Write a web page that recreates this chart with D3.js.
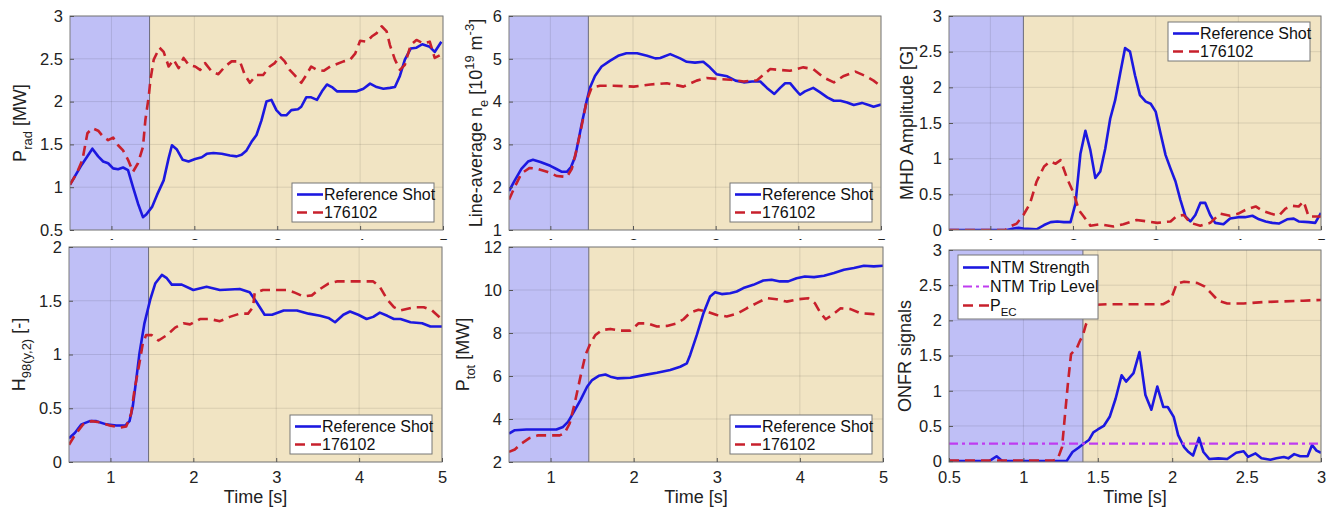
<!DOCTYPE html>
<html>
<head>
<meta charset="utf-8">
<script src="https://cdn.jsdelivr.net/npm/d3@7"></script>
<style>
  body { margin: 0; background: #fff; }
  svg { font-family: "Liberation Sans", Arial, Helvetica, sans-serif; }
</style>
</head>
<body>
<svg width="1328" height="507"></svg>
<script>
// ---- data: [time (s), value] ----
const pradRef = [[0.5,1.03],[0.64,1.26],[0.77,1.45],[0.84,1.36],[0.9,1.30],[0.96,1.28],[1.02,1.22],[1.08,1.21],[1.14,1.23],[1.2,1.20],[1.26,1.0],[1.32,0.81],[1.38,0.65],[1.42,0.68],[1.49,0.77],[1.55,0.91],[1.63,1.08],[1.69,1.34],[1.73,1.49],[1.79,1.44],[1.86,1.32],[1.93,1.30],[2.01,1.33],[2.09,1.35],[2.15,1.39],[2.23,1.40],[2.33,1.39],[2.43,1.37],[2.51,1.36],[2.57,1.38],[2.63,1.43],[2.69,1.53],[2.75,1.61],[2.81,1.78],[2.87,2.0],[2.93,2.02],[2.99,1.90],[3.05,1.84],[3.11,1.84],[3.17,1.90],[3.25,1.91],[3.29,1.94],[3.35,2.05],[3.41,2.05],[3.48,2.02],[3.54,2.12],[3.6,2.20],[3.66,2.17],[3.72,2.12],[3.84,2.12],[3.96,2.12],[4.04,2.15],[4.12,2.21],[4.2,2.17],[4.28,2.15],[4.36,2.16],[4.42,2.17],[4.48,2.30],[4.54,2.49],[4.61,2.62],[4.68,2.63],[4.75,2.67],[4.84,2.64],[4.9,2.58],[4.98,2.70]];
const pradShot = [[0.5,1.03],[0.58,1.16],[0.65,1.32],[0.71,1.63],[0.77,1.69],[0.84,1.66],[0.9,1.59],[0.96,1.55],[1.02,1.58],[1.08,1.49],[1.14,1.43],[1.2,1.32],[1.26,1.18],[1.32,1.28],[1.38,1.47],[1.41,1.79],[1.45,2.06],[1.47,2.25],[1.51,2.49],[1.58,2.63],[1.63,2.58],[1.69,2.41],[1.75,2.49],[1.81,2.39],[1.87,2.51],[1.93,2.43],[2.01,2.41],[2.07,2.37],[2.13,2.45],[2.21,2.35],[2.29,2.32],[2.37,2.41],[2.45,2.47],[2.55,2.47],[2.61,2.31],[2.67,2.22],[2.75,2.31],[2.83,2.31],[2.91,2.41],[2.97,2.45],[3.03,2.53],[3.09,2.47],[3.15,2.37],[3.21,2.31],[3.29,2.22],[3.35,2.31],[3.41,2.41],[3.48,2.37],[3.56,2.36],[3.64,2.41],[3.72,2.44],[3.8,2.47],[3.88,2.49],[3.94,2.56],[4.0,2.71],[4.08,2.70],[4.14,2.76],[4.2,2.80],[4.26,2.88],[4.32,2.82],[4.36,2.66],[4.42,2.49],[4.48,2.37],[4.54,2.43],[4.61,2.66],[4.68,2.72],[4.76,2.68],[4.84,2.70],[4.9,2.51],[4.96,2.54]];

const neRef = [[0.5,1.91],[0.57,2.16],[0.65,2.43],[0.73,2.60],[0.79,2.64],[0.88,2.59],[1.0,2.50],[1.08,2.42],[1.14,2.36],[1.2,2.36],[1.25,2.47],[1.3,2.71],[1.34,3.09],[1.38,3.48],[1.44,4.02],[1.48,4.33],[1.54,4.60],[1.62,4.82],[1.72,4.95],[1.82,5.07],[1.92,5.13],[2.05,5.13],[2.17,5.07],[2.27,5.01],[2.33,5.02],[2.45,5.11],[2.57,5.01],[2.65,4.93],[2.75,4.91],[2.85,4.93],[2.93,4.80],[3.01,4.64],[3.14,4.59],[3.24,4.49],[3.34,4.45],[3.44,4.47],[3.54,4.47],[3.62,4.32],[3.71,4.18],[3.78,4.32],[3.84,4.43],[3.9,4.43],[3.96,4.29],[4.02,4.16],[4.08,4.24],[4.18,4.32],[4.26,4.22],[4.35,4.10],[4.43,4.02],[4.51,4.02],[4.59,3.98],[4.67,3.92],[4.77,3.97],[4.85,3.92],[4.91,3.88],[5.0,3.93]];
const neShot = [[0.5,1.71],[0.57,2.01],[0.65,2.32],[0.75,2.45],[0.84,2.43],[0.96,2.36],[1.08,2.26],[1.2,2.24],[1.26,2.43],[1.32,2.90],[1.38,3.44],[1.44,4.02],[1.5,4.33],[1.6,4.37],[1.76,4.37],[2.01,4.35],[2.21,4.40],[2.41,4.43],[2.61,4.35],[2.77,4.49],[2.89,4.55],[3.01,4.53],[3.18,4.51],[3.34,4.47],[3.5,4.50],[3.66,4.76],[3.78,4.74],[3.9,4.72],[4.06,4.80],[4.18,4.76],[4.3,4.57],[4.43,4.45],[4.55,4.60],[4.69,4.70],[4.81,4.60],[4.91,4.49],[4.99,4.37]];

const mhdRef = [[0.5,0],[1.2,0],[1.28,0.02],[1.34,0.03],[1.4,0.02],[1.56,0.01],[1.65,0.07],[1.73,0.11],[1.81,0.12],[1.89,0.11],[1.97,0.11],[2.03,0.37],[2.09,1.07],[2.15,1.39],[2.21,1.12],[2.27,0.73],[2.33,0.82],[2.39,1.14],[2.45,1.56],[2.51,1.82],[2.57,2.19],[2.63,2.55],[2.69,2.50],[2.75,2.17],[2.81,1.89],[2.88,1.80],[2.94,1.77],[3.0,1.66],[3.06,1.35],[3.12,1.05],[3.18,0.86],[3.24,0.68],[3.3,0.42],[3.36,0.19],[3.42,0.12],[3.48,0.21],[3.54,0.38],[3.6,0.38],[3.66,0.21],[3.72,0.10],[3.82,0.08],[3.9,0.16],[4.0,0.18],[4.08,0.18],[4.17,0.20],[4.25,0.15],[4.33,0.12],[4.41,0.10],[4.49,0.09],[4.59,0.15],[4.67,0.16],[4.73,0.12],[4.85,0.11],[4.93,0.10],[5.0,0.24]];
const mhdShot = [[0.5,0],[1.18,0],[1.24,0.05],[1.32,0.09],[1.4,0.21],[1.48,0.37],[1.56,0.68],[1.65,0.89],[1.72,0.96],[1.79,0.93],[1.85,0.98],[1.93,0.72],[2.01,0.51],[2.07,0.28],[2.13,0.19],[2.21,0.06],[2.33,0.08],[2.49,0.05],[2.61,0.08],[2.77,0.14],[2.9,0.12],[3.02,0.10],[3.18,0.12],[3.26,0.20],[3.34,0.21],[3.42,0.10],[3.54,0.06],[3.66,0.10],[3.78,0.23],[3.9,0.20],[4.0,0.23],[4.1,0.29],[4.21,0.33],[4.29,0.27],[4.39,0.23],[4.49,0.20],[4.57,0.30],[4.65,0.34],[4.73,0.33],[4.79,0.40],[4.85,0.19],[4.93,0.19],[5.0,0.19]];

const h98Ref = [[0.5,0.22],[0.57,0.27],[0.65,0.35],[0.75,0.38],[0.83,0.38],[0.95,0.35],[1.07,0.34],[1.18,0.34],[1.23,0.38],[1.27,0.52],[1.31,0.76],[1.35,1.01],[1.41,1.29],[1.48,1.51],[1.54,1.66],[1.62,1.74],[1.68,1.71],[1.74,1.65],[1.86,1.65],[2.0,1.60],[2.16,1.63],[2.32,1.60],[2.56,1.61],[2.68,1.58],[2.76,1.49],[2.86,1.37],[2.95,1.37],[3.09,1.41],[3.25,1.41],[3.39,1.38],[3.53,1.36],[3.63,1.34],[3.71,1.30],[3.81,1.37],[3.89,1.40],[3.99,1.37],[4.09,1.33],[4.17,1.35],[4.25,1.39],[4.34,1.36],[4.42,1.33],[4.5,1.33],[4.62,1.30],[4.76,1.29],[4.86,1.26],[5.0,1.26]];
const h98Shot = [[0.5,0.16],[0.57,0.25],[0.67,0.35],[0.77,0.38],[0.87,0.37],[0.99,0.34],[1.11,0.32],[1.19,0.33],[1.25,0.45],[1.29,0.67],[1.35,0.92],[1.39,1.10],[1.43,1.18],[1.5,1.18],[1.58,1.13],[1.68,1.18],[1.78,1.25],[1.88,1.29],[1.96,1.28],[2.08,1.33],[2.2,1.33],[2.32,1.31],[2.44,1.35],[2.56,1.38],[2.66,1.38],[2.72,1.44],[2.74,1.57],[2.84,1.60],[3.01,1.60],[3.13,1.60],[3.21,1.58],[3.33,1.54],[3.43,1.55],[3.51,1.60],[3.63,1.66],[3.73,1.68],[3.89,1.68],[4.05,1.68],[4.17,1.68],[4.25,1.63],[4.34,1.51],[4.42,1.44],[4.5,1.41],[4.66,1.44],[4.78,1.44],[4.88,1.41],[4.98,1.34]];

const ptotRef = [[0.5,3.32],[0.57,3.48],[0.71,3.51],[0.91,3.51],[1.07,3.51],[1.15,3.63],[1.21,3.87],[1.27,4.26],[1.36,4.88],[1.44,5.50],[1.5,5.81],[1.58,6.01],[1.66,6.07],[1.72,5.97],[1.8,5.89],[1.96,5.92],[2.12,6.04],[2.28,6.15],[2.44,6.28],[2.56,6.43],[2.64,6.59],[2.68,6.98],[2.76,7.91],[2.84,8.92],[2.92,9.70],[2.98,9.90],[3.06,9.81],[3.16,9.85],[3.24,9.93],[3.32,10.09],[3.44,10.24],[3.56,10.44],[3.66,10.48],[3.76,10.40],[3.86,10.40],[3.96,10.55],[4.06,10.63],[4.17,10.60],[4.29,10.66],[4.41,10.79],[4.53,10.94],[4.65,11.02],[4.77,11.13],[4.89,11.10],[5.0,11.13]];
const ptotShot = [[0.5,2.47],[0.57,2.58],[0.65,2.86],[0.75,3.12],[0.85,3.24],[0.99,3.24],[1.11,3.24],[1.17,3.35],[1.23,3.79],[1.29,4.72],[1.36,5.97],[1.42,6.98],[1.48,7.52],[1.54,7.91],[1.62,8.14],[1.72,8.19],[1.84,8.11],[1.96,8.11],[2.06,8.45],[2.16,8.45],[2.28,8.30],[2.4,8.33],[2.52,8.45],[2.6,8.64],[2.68,8.95],[2.78,9.08],[2.88,9.00],[3.0,8.84],[3.12,8.77],[3.24,8.89],[3.36,9.15],[3.48,9.39],[3.6,9.62],[3.72,9.57],[3.84,9.46],[3.98,9.57],[4.1,9.62],[4.18,9.39],[4.25,8.92],[4.31,8.64],[4.39,8.84],[4.49,9.15],[4.61,9.11],[4.73,8.92],[4.85,8.89],[4.97,8.84]];

const ntmStrength = [[0.5,0],[0.77,0],[0.82,0.07],[0.86,0],[1.29,0],[1.33,0.13],[1.37,0.19],[1.4,0.24],[1.44,0.30],[1.47,0.41],[1.5,0.45],[1.54,0.50],[1.58,0.63],[1.62,0.89],[1.66,1.22],[1.69,1.13],[1.74,1.25],[1.78,1.55],[1.82,0.94],[1.86,0.73],[1.9,1.06],[1.94,0.77],[1.97,0.77],[2.01,0.63],[2.04,0.37],[2.08,0.20],[2.11,0.13],[2.14,0.08],[2.18,0.33],[2.21,0.13],[2.25,0.03],[2.31,0.04],[2.37,0.03],[2.43,0.12],[2.48,0.14],[2.51,0.06],[2.56,0.11],[2.6,0.04],[2.66,0.02],[2.7,0.04],[2.75,0.06],[2.78,0.04],[2.82,0.10],[2.86,0.07],[2.91,0.07],[2.94,0.23],[2.97,0.15],[3.0,0.12]];
const ntmTrip = [[0.5,0.25],[3.0,0.25]];
const pecSignal = [[0.5,0.01],[1.2,0.01],[1.23,0.03],[1.26,0.20],[1.28,0.67],[1.3,1.12],[1.32,1.52],[1.36,1.61],[1.38,1.71],[1.4,1.79],[1.42,1.94],[1.45,2.07],[1.48,2.22],[1.56,2.23],[1.67,2.23],[1.81,2.23],[1.94,2.23],[1.99,2.29],[2.03,2.52],[2.08,2.55],[2.17,2.53],[2.22,2.48],[2.26,2.39],[2.31,2.28],[2.37,2.24],[2.48,2.24],[2.61,2.26],[2.75,2.27],[2.88,2.28],[3.0,2.29]];

const ticksLong = [1, 2, 3, 4, 5];
const ticksHalf = [0.5, 1, 1.5, 2, 2.5, 3];
const ticksZero = [0, 0.5, 1, 1.5, 2, 2.5, 3];
const legendMain = ["Reference Shot", "176102"];
const legendOnfr = ["NTM Strength", "NTM Trip Level", "P_EC"];

// ---- drawing ----
const svg = d3.select("svg");
const blue = "#1c18e0", red = "#c8202c", magenta = "#bf3cf0";
const lavender = "#bfbff6", beige = "#f1e4c3";

// text with sub / superscripts: parts = [[text, kind]]
function rich(t, parts, size) {
  let shift = 0;
  parts.forEach(function(p) {
    var kind = p[1] || "n";
    var target = kind == "sub" ? size * 0.32 : (kind == "sup" ? -size * 0.42 : 0);
    t.append("tspan")
      .attr("font-size", kind == "n" ? size : size * 0.72)
      .attr("dy", target - shift)
      .text(p[0]);
    shift = target;
  });
}

var clipId = 0;

// clip for top-row tick labels that disappear behind the lower panels
svg.append("clipPath").attr("id", "topcut").append("rect")
  .attr("x", 0).attr("y", 0).attr("width", 1328).attr("height", 240);

function panel(cfg) {
  var g = svg.append("g");
  var x = d3.scaleLinear().domain(cfg.xDomain).range([cfg.left, cfg.right]);
  var y = d3.scaleLinear().domain(cfg.yDomain).range([cfg.bottom, cfg.top]);
  var id = "clip" + (clipId++);

  svg.append("clipPath").attr("id", id).append("rect")
    .attr("x", cfg.left).attr("y", cfg.top)
    .attr("width", cfg.right - cfg.left).attr("height", cfg.bottom - cfg.top);

  // background phases
  g.append("rect").attr("x", x(cfg.xDomain[0])).attr("y", cfg.top)
    .attr("width", x(cfg.shadeEnd) - x(cfg.xDomain[0])).attr("height", cfg.bottom - cfg.top)
    .attr("fill", lavender);
  g.append("rect").attr("x", x(cfg.shadeEnd)).attr("y", cfg.top)
    .attr("width", x(cfg.xDomain[1]) - x(cfg.shadeEnd)).attr("height", cfg.bottom - cfg.top)
    .attr("fill", beige);

  // grid
  g.selectAll(".gx").data(cfg.xTicks).enter().append("line")
    .attr("x1", d => x(d)).attr("x2", d => x(d))
    .attr("y1", cfg.top).attr("y2", cfg.bottom)
    .attr("stroke", "#000").attr("stroke-opacity", 0.1);
  g.selectAll(".gy").data(cfg.yTicks).enter().append("line")
    .attr("x1", cfg.left).attr("x2", cfg.right)
    .attr("y1", d => y(d)).attr("y2", d => y(d))
    .attr("stroke", "#000").attr("stroke-opacity", 0.1);

  g.append("line").attr("x1", x(cfg.shadeEnd)).attr("x2", x(cfg.shadeEnd))
    .attr("y1", cfg.top).attr("y2", cfg.bottom)
    .attr("stroke", "#6a6a7a").attr("stroke-width", 1);

  // series
  var line = d3.line().x(d => x(d[0])).y(d => y(d[1]));
  cfg.series.forEach(function(s) {
    g.append("path")
      .attr("clip-path", "url(#" + id + ")")
      .attr("d", line(s.data))
      .attr("fill", "none")
      .attr("stroke", s.color)
      .attr("stroke-width", s.width || 2.6)
      .attr("stroke-dasharray", s.dash || null)
      .attr("stroke-linejoin", "round");
  });

  // box
  g.append("rect").attr("x", cfg.left).attr("y", cfg.top)
    .attr("width", cfg.right - cfg.left).attr("height", cfg.bottom - cfg.top)
    .attr("fill", "none").attr("stroke", "#7d7d7d").attr("stroke-width", 1);

  // axes
  var yAxis = g.append("g").attr("transform", `translate(${cfg.left},0)`)
    .call(d3.axisLeft(y).tickValues(cfg.yTicks).tickSize(-4).tickPadding(7).tickFormat(d3.format("")));
  var xWrap = g.append("g");
  if (cfg.hideX) xWrap.attr("clip-path", "url(#topcut)");
  var xAxis = xWrap.append("g").attr("transform", `translate(0,${cfg.bottom})`)
    .call(d3.axisBottom(x).tickValues(cfg.xTicks).tickSize(-4).tickPadding(9).tickFormat(d3.format("")));
  [yAxis, xAxis].forEach(function(a) {
    a.select(".domain").remove();
    a.selectAll(".tick line").attr("stroke", "#555");
    a.selectAll("text").attr("font-size", 16.5).attr("fill", "#222")
      .attr("font-family", "Liberation Sans, Arial, sans-serif");
  });
  if (!cfg.hideX) {
    g.append("text").attr("x", (cfg.left + cfg.right) / 2).attr("y", 503)
      .attr("text-anchor", "middle").attr("font-size", 18).attr("fill", "#222")
      .text("Time [s]");
  }

  // y label
  var yl = g.append("text")
    .attr("transform", `translate(${cfg.ylabelX},${(cfg.top + cfg.bottom) / 2}) rotate(-90)`)
    .attr("text-anchor", "middle").attr("fill", "#222");
  rich(yl, cfg.ylabel, 18);

  // legend
  var L = cfg.legend;
  var lg = g.append("g");
  lg.append("rect").attr("x", L.x).attr("y", L.y).attr("width", L.w).attr("height", L.h)
    .attr("fill", "#fff").attr("stroke", "#777").attr("stroke-width", 1);
  L.entries.forEach(function(e, i) {
    var cy = L.y + L.first + i * L.step;
    lg.append("line").attr("x1", L.x + 5).attr("x2", L.x + 31)
      .attr("y1", cy).attr("y2", cy)
      .attr("stroke", e.color).attr("stroke-width", e.width || 2.6)
      .attr("stroke-dasharray", e.dash || null);
    var t = lg.append("text").attr("x", L.x + 32).attr("y", cy + 5.5)
      .attr("fill", "#111");
    var parts = e.label.split("_");
    if (parts.length > 1) rich(t, [[parts[0]], [parts[1], "sub"]], 16);
    else rich(t, [[e.label]], 16);
  });
}

const refStyle = { color: blue };
const shotStyle = { color: red, dash: "10,6" };
const cols = [[70, 443], [509, 881], [949, 1321]];
const rows = [[16, 230], [247, 462]];

function twoLegend(x, y) {
  return { x: x, y: y, w: 142, h: 39, first: 11.5, step: 18,
    entries: [Object.assign({ label: legendMain[0] }, refStyle), Object.assign({ label: legendMain[1] }, shotStyle)] };
}

panel({ left: cols[0][0], right: cols[0][1], top: rows[0][0], bottom: rows[0][1],
  xDomain: [0.5, 5], yDomain: [0.5, 3], xTicks: ticksLong, yTicks: ticksHalf, shadeEnd: 1.46, hideX: true,
  series: [Object.assign({ data: pradRef }, refStyle), Object.assign({ data: pradShot }, shotStyle)],
  ylabelX: 26, ylabel: [["P"], ["rad", "sub"], [" [MW]"]], legend: twoLegend(292, 183) });

panel({ left: cols[1][0], right: cols[1][1], top: rows[0][0], bottom: rows[0][1],
  xDomain: [0.5, 5], yDomain: [1, 6], xTicks: ticksLong, yTicks: [1, 2, 3, 4, 5, 6], shadeEnd: 1.46, hideX: true,
  series: [Object.assign({ data: neRef }, refStyle), Object.assign({ data: neShot }, shotStyle)],
  ylabelX: 482, ylabel: [["Line-average n"], ["e", "sub"], [" [10"], ["19", "sup"], [" m"], ["-3", "sup"], ["]"]],
  legend: twoLegend(730, 183) });

panel({ left: cols[2][0], right: cols[2][1], top: rows[0][0], bottom: rows[0][1],
  xDomain: [0.5, 5], yDomain: [0, 3], xTicks: ticksLong, yTicks: ticksZero, shadeEnd: 1.40, hideX: true,
  series: [Object.assign({ data: mhdRef }, refStyle), Object.assign({ data: mhdShot }, shotStyle)],
  ylabelX: 913, ylabel: [["MHD Amplitude [G]"]], legend: twoLegend(1168, 22) });

panel({ left: cols[0][0] - 1, right: cols[0][1] - 1, top: rows[1][0], bottom: rows[1][1],
  xDomain: [0.5, 5], yDomain: [0, 2], xTicks: ticksLong, yTicks: [0, 0.5, 1, 1.5, 2], shadeEnd: 1.46,
  series: [Object.assign({ data: h98Ref }, refStyle), Object.assign({ data: h98Shot }, shotStyle)],
  ylabelX: 25, ylabel: [["H"], ["98(y,2)", "sub"], [" [-]"]], legend: twoLegend(290, 415) });

panel({ left: cols[1][0], right: cols[1][1] + 2, top: rows[1][0], bottom: rows[1][1],
  xDomain: [0.5, 5], yDomain: [2, 12], xTicks: ticksLong, yTicks: [2, 4, 6, 8, 10, 12], shadeEnd: 1.46,
  series: [Object.assign({ data: ptotRef }, refStyle), Object.assign({ data: ptotShot }, shotStyle)],
  ylabelX: 469, ylabel: [["P"], ["tot", "sub"], [" [MW]"]], legend: twoLegend(730, 415) });

panel({ left: cols[2][0], right: cols[2][1], top: rows[1][0] + 3, bottom: rows[1][1],
  xDomain: [0.5, 3], yDomain: [-0.012, 3], xTicks: ticksHalf, yTicks: ticksZero, shadeEnd: 1.40,
  series: [
    { data: ntmStrength, color: blue },
    { data: ntmTrip, color: magenta, dash: "9,4,3,4", width: 2.2 },
    { data: pecSignal, color: red, dash: "10,6" }],
  ylabelX: 911, ylabel: [["ONFR signals"]],
  legend: { x: 958, y: 255, w: 140, h: 64, first: 12.5, step: 19,
    entries: [
      { label: legendOnfr[0], color: blue },
      { label: legendOnfr[1], color: magenta, dash: "9,4,3,4", width: 2.2 },
      { label: legendOnfr[2], color: red, dash: "10,6" }] } });
</script>
</body>
</html>
